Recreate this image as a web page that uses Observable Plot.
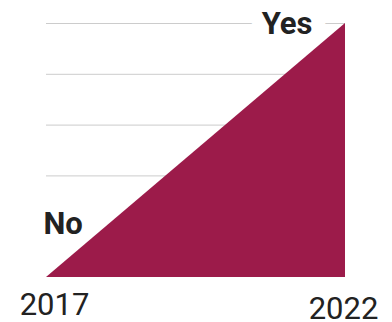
<!DOCTYPE html>
<html><head><meta charset="utf-8">
<script src="https://cdn.jsdelivr.net/npm/d3@7"></script>
<script src="https://cdn.jsdelivr.net/npm/@observablehq/plot@0.6"></script>
<style>body{margin:0;background:#fff;font-family:Roboto,sans-serif}</style>
</head><body><div id="chart"></div>
<script>
const years = [2017, 2022];
const share = [0, 1];
const gridValues = [0.4, 0.6, 0.8, 1.0];
const tickYears = [2017, 2022];
const labelText = ["No", "Yes"];

const data = years.map((y, i) => ({year: y, value: share[i]}));
const chart = Plot.plot({
  width: 392, height: 322,
  marginLeft: 46, marginRight: 47, marginTop: 23, marginBottom: 45,
  style: {fontFamily: "Roboto, sans-serif", background: "#fff"},
  x: {domain: [2017, 2022], axis: null},
  y: {domain: [0, 1], axis: null},
  marks: [
    Plot.ruleY(gridValues, {stroke: "#cccccc", strokeWidth: 1, strokeOpacity: 1}),
    Plot.text([labelText[1]], {x: () => years[1], y: () => share[1], text: d => d, textAnchor: "end", dx: -33, dy: 1, fontSize: 31, fontWeight: "bold", fill: "#222", stroke: "white", strokeWidth: 28}),
    Plot.areaY(data, {x: "year", y: "value", fill: "#9c1b4a"}),
    Plot.text([labelText[0]], {x: () => years[0], y: () => share[0], text: d => d, textAnchor: "start", dx: -3, dy: -53, fontSize: 31, fontWeight: "bold", fill: "#222"}),
    Plot.text([tickYears[0]], {x: d => d, y: () => 0, text: d => String(d), dx: 8, dy: 28, fontSize: 31, fill: "#222"}),
    Plot.text([tickYears[1]], {x: d => d, y: () => 0, text: d => String(d), dx: -2, dy: 32, fontSize: 31, fill: "#222"})
  ]
});
document.getElementById("chart").appendChild(chart);
</script></body></html>
